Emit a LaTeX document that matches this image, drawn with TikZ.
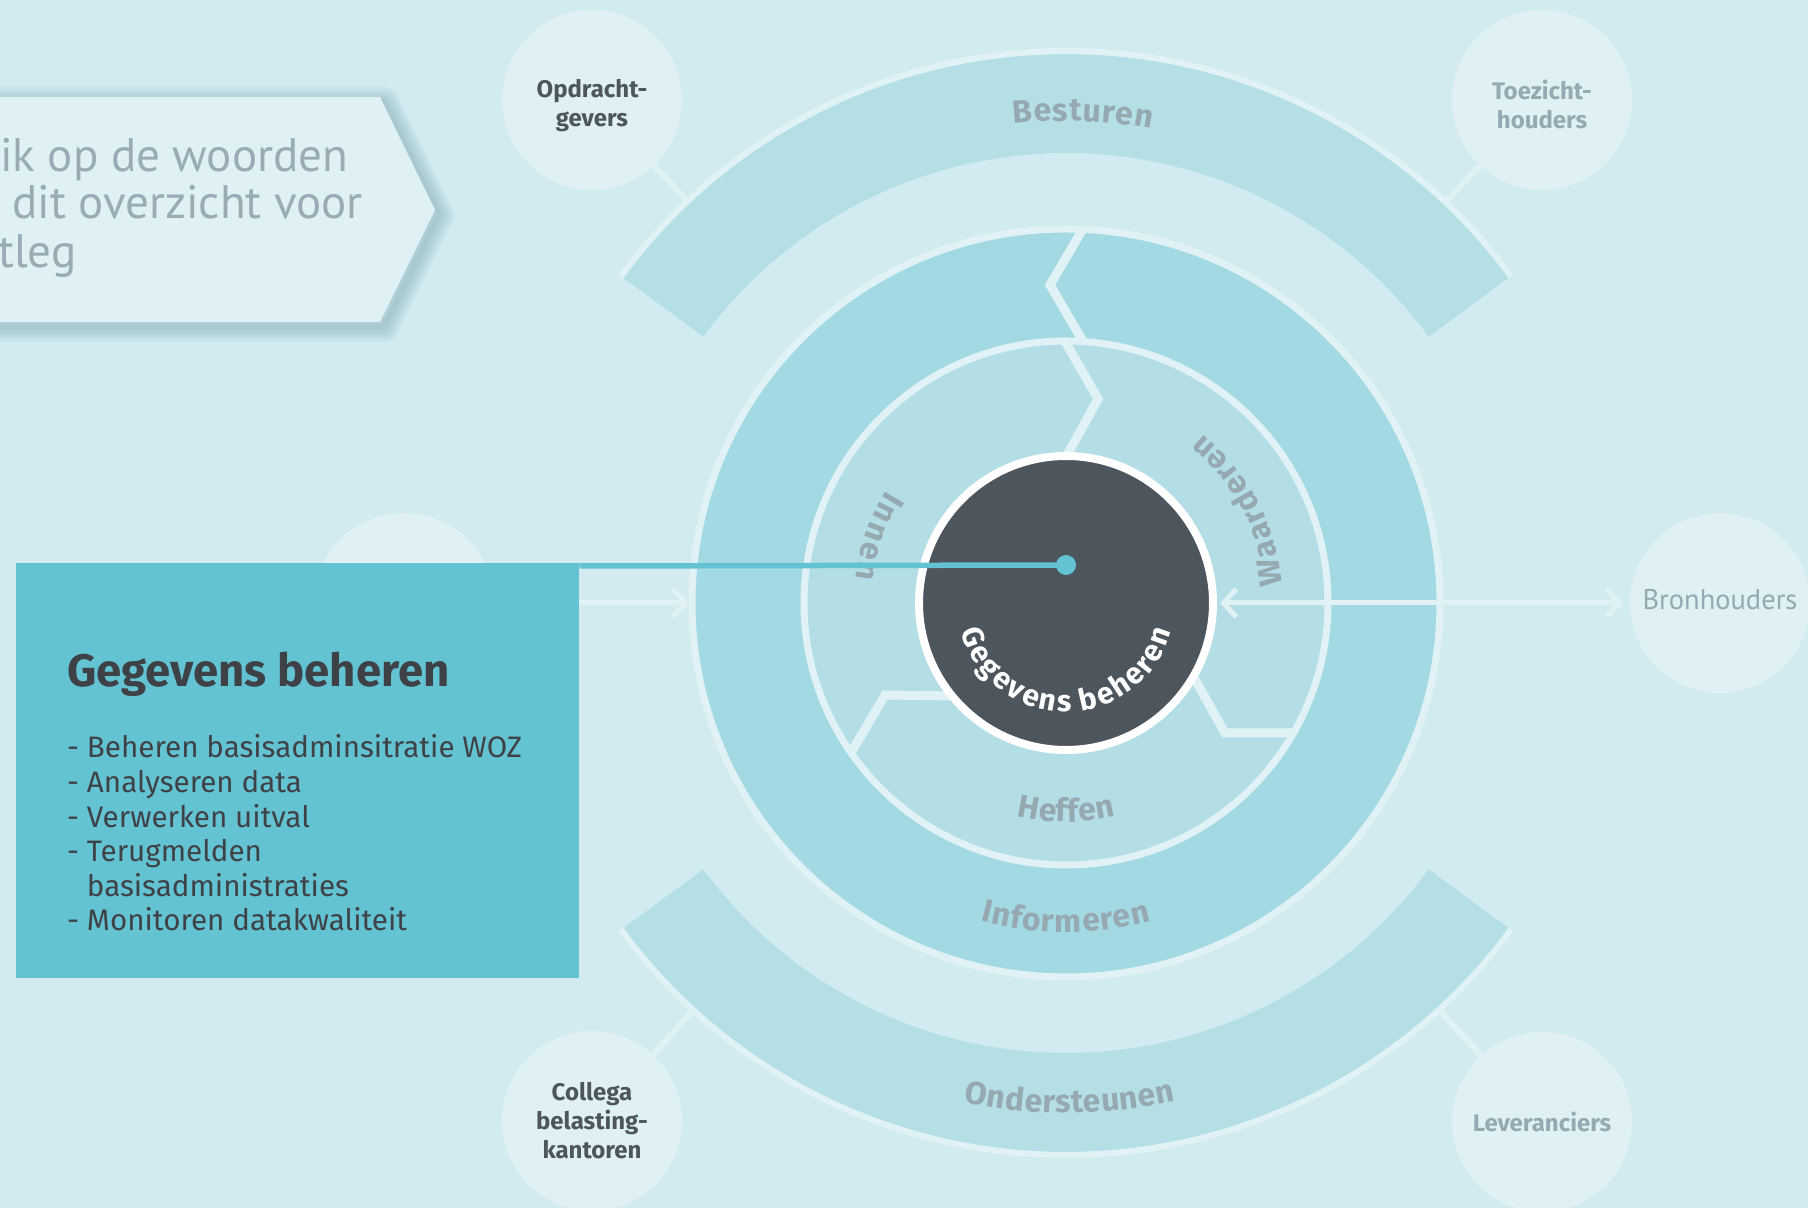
\documentclass[tikz,border=0pt]{standalone}
\usepackage{fontspec}
\setmainfont{Fira Sans}
\newfontfamily\callfont{PT Sans}
\usetikzlibrary{calc,decorations.text,arrows.meta}
\definecolor{bg}{RGB}{210,235,240}
\definecolor{sat}{RGB}{223,241,245}
\definecolor{wline}{RGB}{224,242,245}
\definecolor{band}{RGB}{179,223,229}
\definecolor{midring}{RGB}{163,217,227}
\definecolor{inring}{RGB}{179,222,229}
\definecolor{dark}{RGB}{77,85,93}
\definecolor{teal}{RGB}{99,195,210}
\definecolor{greytxt}{RGB}{150,169,177}
\definecolor{boxtxt}{RGB}{62,66,70}
\definecolor{shadowc}{RGB}{95,140,155}
\definecolor{calltxt}{RGB}{152,172,180}
\begin{document}
\begin{tikzpicture}[x=1pt,y=1pt,
  wl/.style={draw=wline, line width=6pt},
  zz/.style={draw=wline, line width=9pt, line join=miter},
  satc/.style={circle, fill=sat, minimum size=180pt, inner sep=0pt},
  sattxt/.style={align=center, inner sep=0pt, font=\fontsize{24}{29}\selectfont\bfseries},
  listtxt/.style={anchor=base west, inner sep=0pt, font=\fontsize{29.6}{34.6}\selectfont, text=boxtxt},
  calltext/.style={anchor=base west, inner sep=0pt, font=\callfont\fontsize{47}{47}\selectfont, text=calltxt},
  barb/.style={line width=5pt, draw=wline},
  ringlabel/.style={decorate, decoration={text effects along path, text={#1},
    text effects/.cd, text along path, fit text to path,
    characters={text=greytxt, font=\fontsize{32}{32}\selectfont\bfseries, inner sep=0pt, anchor=base}}},
]
\useasboundingbox (0,0) rectangle (1808,1208);
\fill[bg] (0,0) rectangle (1808,1208);
\coordinate (C) at (1066,605);

% satellites
\node[satc] (opd) at (592,1108) {};
\node[satc] (toe) at (1542,1108) {};
\node[satc] (bron) at (1720,605) {};
\node[satc] (lft) at (404,605) {};
\node[satc] (col) at (592,87) {};
\node[satc] (lev) at (1542,86) {};

% connectors
\draw[wl] (opd) -- ($(C)!553pt!(opd)$);
\draw[wl] (toe) -- ($(C)!553pt!(toe)$);
\draw[wl] (col) -- ($(C)!553pt!(col)$);
\draw[wl] (lev) -- ($(C)!553pt!(lev)$);

% outer bands
\fill[band] ($(C)+(36.3:450)$) arc[start angle=36.3,end angle=143.7,radius=450pt]
  -- ($(C)+(143.7:549)$) arc[start angle=143.7,end angle=36.3,radius=549pt] -- cycle;
\draw[wl] ($(C)+(36.3:552)$) arc[start angle=36.3,end angle=143.7,radius=552pt];
\fill[band] ($(C)+(-36.3:450)$) arc[start angle=-36.3,end angle=-143.7,radius=450pt]
  -- ($(C)+(-143.7:549)$) arc[start angle=-143.7,end angle=-36.3,radius=549pt] -- cycle;
\draw[wl] ($(C)+(-36.3:552)$) arc[start angle=-36.3,end angle=-143.7,radius=552pt];

% middle ring
\fill[midring] (C) circle[radius=374pt];
\draw[wline, line width=7pt] (C) circle[radius=374pt];
\draw[zz] ($(C)+(18,376)$) -- ($(C)+(-16,318)$) -- ($(C)+(18,260)$);

% inner ring
\fill[inring] (C) circle[radius=262pt];
\draw[wline, line width=7pt] (C) circle[radius=262pt];
\draw[zz] ($(C)+(-1,262)$) -- ($(C)+(32,204)$) -- ($(C)+(0,146)$);
\draw[zz] ($(C)+(-215,-150)$) -- ($(C)+(-181,-92)$) -- ($(C)+(-110,-93)$);
\draw[zz] ($(C)+(123,-66)$) -- ($(C)+(159,-130)$) -- ($(C)+(228,-130)$);

% arrows
\draw[barb, -{Straight Barb[length=13pt,width=28pt]}] (lft) -- ($(C)+(-377,0)$);
\draw[barb, {Straight Barb[length=13pt,width=28pt]}-{Straight Barb[length=13pt,width=28pt]}, shorten >=7pt] ($(C)+(154,0)$) -- (bron);

% core
\node[circle, fill=dark, draw=white, line width=8pt, minimum size=294pt, inner sep=0pt] (core) at (C) {};

% ring labels
\path[ringlabel=Besturen] ($(C)+(96.2:482)$) arc[start angle=96.2,end angle=79.8,radius=482pt];
\path[ringlabel=Ondersteunen] ($(C)+(-101.6:510)$) arc[start angle=-101.6,end angle=-77.6,radius=510pt];
\path[ringlabel=Informeren] ($(C)+(-105:329)$) arc[start angle=-105,end angle=-75,radius=329pt];
\path[ringlabel=Heffen] ($(C)+(-103:219)$) arc[start angle=-103,end angle=-77,radius=219pt];
\path[ringlabel=Innen] ($(C)+(148:212)$) arc[start angle=148,end angle=173.5,radius=212pt];
\path[ringlabel=Waarderen] ($(C)+(5:217)$) arc[start angle=5,end angle=51,radius=217pt];
\path[decorate, decoration={text effects along path, text={Gegevens beheren},
    text effects/.cd, text along path, fit text to path,
    characters={text=white, font=\fontsize{30}{30}\selectfont\bfseries, inner sep=0pt, anchor=base}}]
  ($(C)+(-165:109)$) arc[start angle=-165,end angle=-15,radius=109pt];

% teal box and pointer
\node[circle, fill=teal, minimum size=20pt, inner sep=0pt] (dot) at ($(C)+(0,38)$) {};
\node[fill=teal, minimum width=563pt, minimum height=415pt, inner sep=0pt, anchor=north west] (gbox) at (16,645) {};
\draw[teal, line width=5.5pt] ($(gbox.north east)+(0,-3)$) -- (dot.center);
\node[anchor=base west, inner sep=0pt, font=\fontsize{45.5}{45.5}\selectfont\bfseries, text=boxtxt] (gt) at (67,521) {Gegevens beheren};
\node[listtxt] (l1) at (67,450) {- Beheren basisadminsitratie WOZ};
\node[listtxt] (l2) at (67,415.4) {- Analyseren data};
\node[listtxt] (l3) at (67,380.8) {- Verwerken uitval};
\node[listtxt] (l4) at (67,346.2) {- Terugmelden};
\node[listtxt] (l5) at (67,311.6) {\phantom{- }basisadministraties};
\node[listtxt] (l6) at (67,277) {- Monitoren datakwaliteit};

% satellite texts
\node[sattxt, text=dark] (opdt) at ($(opd)+(0,-6)$) {Opdracht-\\gevers};
\node[sattxt, text=greytxt] (toet) at ($(toe)+(0,-4)$) {Toezicht-\\houders};
\node[sattxt, text=dark] (colt) at (col) {Collega\\belasting-\\kantoren};
\node[sattxt, text=greytxt] (levt) at (lev) {Leveranciers};
\node[inner sep=0pt, font=\callfont\fontsize{28.5}{28.5}\selectfont, text=greytxt] (bront) at ($(bron)+(0,3)$) {Bronhouders};

% callout with soft shadow
\begin{scope}[shift={(4,-5)}]
\foreach \w in {30,24,18,12,6}
  \draw[shadowc, opacity=0.08, line width=\w pt, line join=round] (-40,1111) -- (380,1111) -- (435,998) -- (380,886) -- (-40,886) -- cycle;
\end{scope}
\fill[sat] (-40,1111) -- (380,1111) -- (435,998) -- (380,886) -- (-40,886) -- cycle;
\node[calltext] (c1) at (0,1036) {ik op de woorden};
\node[calltext] (c2) at (12,989) {dit overzicht voor};
\node[calltext] (c3) at (-2,940) {tleg};
\end{tikzpicture}
\end{document}
